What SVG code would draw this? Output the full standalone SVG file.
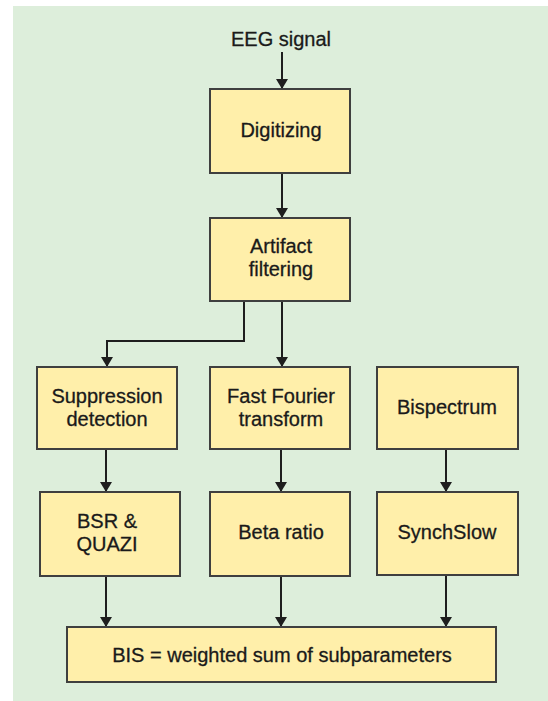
<svg xmlns="http://www.w3.org/2000/svg" width="548" height="701" viewBox="0 0 548 701">
<defs>
<style>
.box{fill:#ffefaa;stroke:#3f3f3f;stroke-width:2}
.t{font-family:"Liberation Sans",Arial,Helvetica,sans-serif;font-size:20px;fill:#1a1a1a;stroke:#1a1a1a;stroke-width:0.3;text-anchor:middle}
.c{fill:none;stroke:#1e1e1e;stroke-width:2}
</style>
<marker id="ah" viewBox="0 0 10 14" refX="10" refY="7" markerWidth="11" markerHeight="14" markerUnits="userSpaceOnUse" orient="auto">
<path d="M0,1 L10,7 L0,13 Z" fill="#1e1e1e"/>
</marker>
</defs>
<rect x="0" y="0" width="548" height="701" fill="#ffffff"/>
<rect x="13" y="6" width="535" height="695" fill="#ddeedb"/>
<text class="t" x="281" y="46">EEG signal</text>
<g id="connectors">
<path class="c" d="M282,52 V89" marker-end="url(#ah)"/>
<path class="c" d="M282,173 V218" marker-end="url(#ah)"/>
<path class="c" d="M244,301 V341 H107 V367" marker-end="url(#ah)"/>
<path class="c" d="M282,301 V367" marker-end="url(#ah)"/>
<path class="c" d="M106,449 V492" marker-end="url(#ah)"/>
<path class="c" d="M281,449 V492" marker-end="url(#ah)"/>
<path class="c" d="M446,449 V492" marker-end="url(#ah)"/>
<path class="c" d="M106,576 V627" marker-end="url(#ah)"/>
<path class="c" d="M281,576 V627" marker-end="url(#ah)"/>
<path class="c" d="M446,575 V627" marker-end="url(#ah)"/>
</g>
<g id="digitizing">
<rect class="box" x="210" y="89" width="140" height="84"/>
<text class="t" x="281" y="137">Digitizing</text>
</g>
<g id="artifact">
<rect class="box" x="210" y="218" width="140" height="83"/>
<text class="t" x="281" y="253">Artifact</text>
<text class="t" x="281" y="276">filtering</text>
</g>
<g id="suppression">
<rect class="box" x="37" y="367" width="140" height="82"/>
<text class="t" x="107" y="403">Suppression</text>
<text class="t" x="107" y="426">detection</text>
</g>
<g id="fft">
<rect class="box" x="210" y="367" width="140" height="82"/>
<text class="t" x="281" y="403">Fast Fourier</text>
<text class="t" x="281" y="426">transform</text>
</g>
<g id="bispectrum">
<rect class="box" x="377" y="367" width="141" height="82"/>
<text class="t" x="447" y="414">Bispectrum</text>
</g>
<g id="bsr">
<rect class="box" x="40" y="492" width="140" height="84"/>
<text class="t" x="107" y="528">BSR &amp;</text>
<text class="t" x="107" y="551">QUAZI</text>
</g>
<g id="beta">
<rect class="box" x="210" y="492" width="140" height="84"/>
<text class="t" x="281" y="539">Beta ratio</text>
</g>
<g id="synchslow">
<rect class="box" x="377" y="492" width="141" height="83"/>
<text class="t" x="447" y="539">SynchSlow</text>
</g>
<g id="bis">
<rect class="box" x="67" y="627" width="429" height="55"/>
<text class="t" x="282" y="662">BIS = weighted sum of subparameters</text>
</g>
</svg>
